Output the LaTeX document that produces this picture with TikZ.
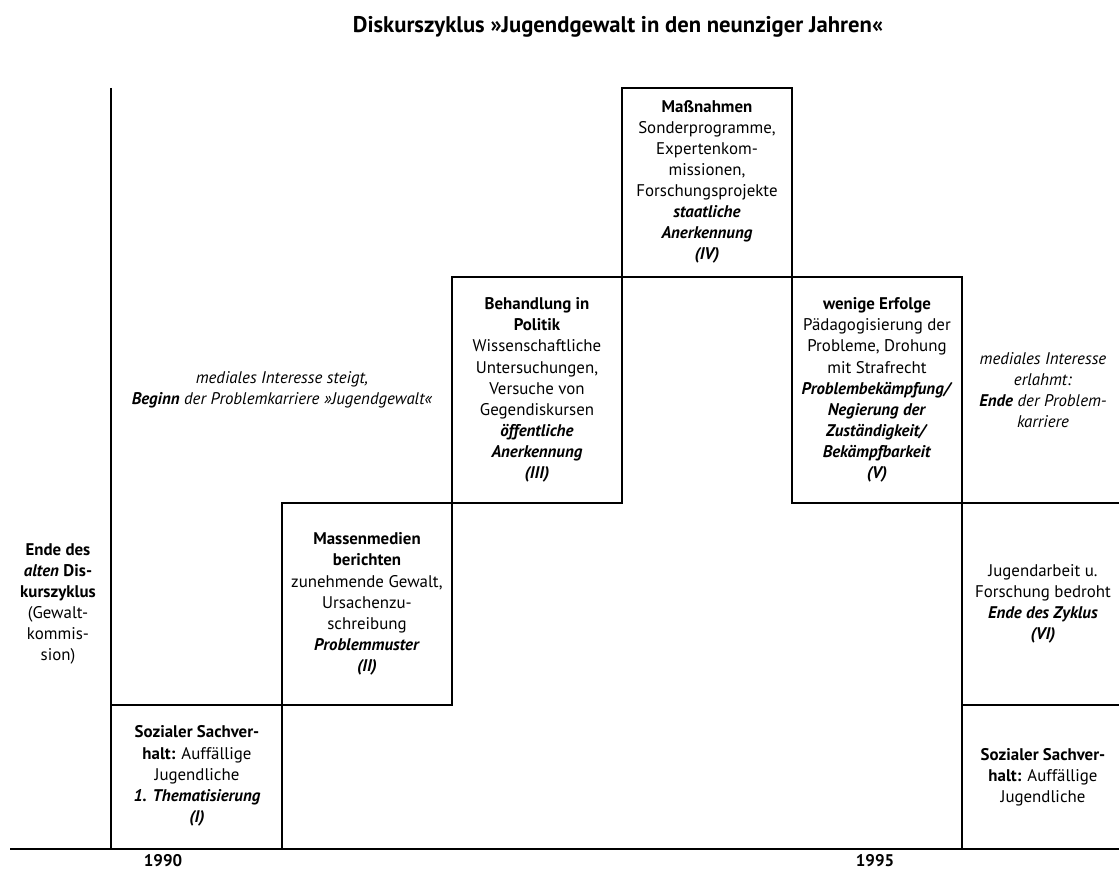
\documentclass[tikz,border=0pt]{standalone}
\usepackage{fontspec}
\setmainfont{PT Sans}
\usepackage{tikz}
\newcommand{\bitext}[1]{\textbf{\textit{#1}}}
\tikzset{
  txt/.style={align=center,inner sep=0pt,font=\fontsize{12}{15}\selectfont},
  feld/.style={draw=black,line width=1pt},
  achse/.style={draw=black,line width=1.4pt}
}

\begin{document}
\begin{tikzpicture}[x=0.025cm,y=-0.025cm]
                \useasboundingbox (0,0) rectangle (1119,872);
                \coordinate (o) at (111,849);
                \coordinate (top) at (111,88);
                \coordinate (l) at (10,849);
                \coordinate (r) at (1119,849);

                % Stufen
                \draw[feld](111,705) rectangle (282,849);
                \draw[feld](282,503) rectangle (452,705);
                \draw[feld](452,277) rectangle (622,503);
                \draw[feld](622,88) rectangle (792,277);
                \draw[feld](792,277) rectangle (962,503);
                \draw[feld](962,503)--(962,849);
                \draw[feld](962,503)--(1119,503);
                \draw[feld](962,705)--(1119,705);

                % Achsen
                \draw[achse](top)--(o);
                \draw[achse](l)--(r);

                \node[txt] (titel) at (618,27) {\resizebox{13.25cm}{!}{\bfseries Diskurszyklus »Jugendgewalt in den neunziger Jahren«}};

                \node[txt] (alt) at (58,604) {\textbf{Ende des}\\\bitext{alten} \textbf{Dis-}\\\textbf{kurszyklus}\\(Gewalt-\\kommis-\\sion)};
                \node[txt] (steigt) at (282,390) {\textit{mediales Interesse steigt,}\\\bitext{Beginn} \textit{der Problemkarriere »Jugendgewalt«}};

                \node[txt] (s1) at (197,776) {\textbf{Sozialer Sachver-}\\\textbf{halt:} Auffällige\\Jugendliche\\\bitext{1. Thematisierung}\\\bitext{(I)}};
                \node[txt] (s2) at (367,604) {\textbf{Massenmedien}\\\textbf{berichten}\\zunehmende Gewalt,\\Ursachenzu-\\schreibung\\\bitext{Problemmuster}\\\bitext{(II)}};
                \node[txt] (s3) at (537,390) {\textbf{Behandlung in}\\\textbf{Politik}\\Wissenschaftliche\\Untersuchungen,\\Versuche von\\Gegendiskursen\\\bitext{öffentliche}\\\bitext{Anerkennung}\\\bitext{(III)}};
                \node[txt] (s4) at (707,182) {\textbf{Maßnahmen}\\Sonderprogramme,\\Expertenkom-\\missionen,\\Forschungsprojekte\\\bitext{staatliche}\\\bitext{Anerkennung}\\\bitext{(IV)}};
                \node[txt] (s5) at (877,390) {\textbf{wenige Erfolge}\\Pädagogisierung der\\Probleme, Drohung\\mit Strafrecht\\\bitext{Problembekämpfung/}\\\bitext{Negierung der}\\\bitext{Zuständigkeit/}\\\bitext{Bekämpfbarkeit}\\\bitext{(V)}};

                \node[txt] (erlahmt) at (1043,390) {\textit{mediales Interesse}\\\textit{erlahmt:}\\\bitext{Ende} \textit{der Problem-}\\\textit{karriere}};
                \node[txt] (s6) at (1043,604) {Jugendarbeit u.\\Forschung bedroht\\\bitext{Ende des Zyklus}\\\bitext{(VI)}};
                \node[txt] (s7) at (1043,777) {\textbf{Sozialer Sachver-}\\\textbf{halt:} Auffällige\\Jugendliche};

                \node[txt,font=\fontsize{12}{15}\selectfont\bfseries] (j90) at (163,861) {1990};
                \node[txt,font=\fontsize{12}{15}\selectfont\bfseries] (j95) at (875,861) {1995};

            \end{tikzpicture}
\end{document}
